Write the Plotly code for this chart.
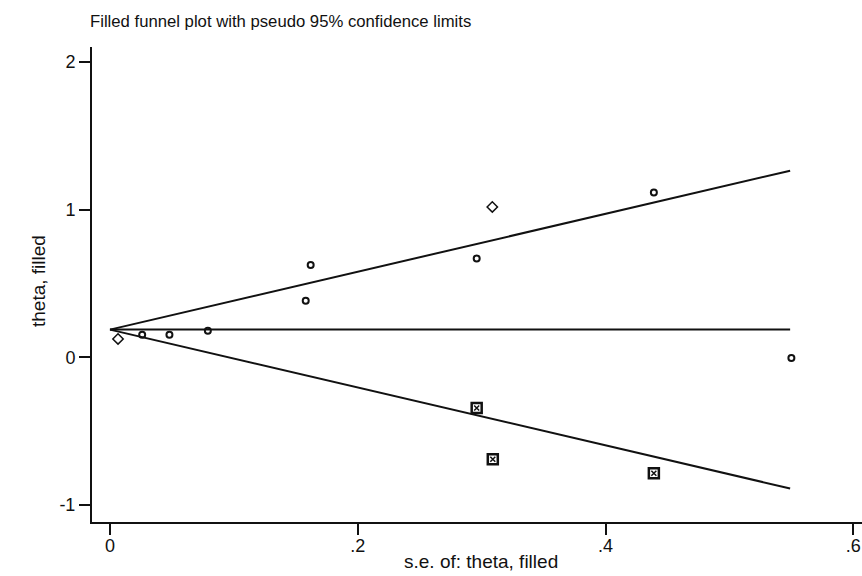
import plotly.graph_objects as go

# Observed studies (hollow circles)
obs_se = [0.026, 0.048, 0.079, 0.158, 0.162, 0.296, 0.439, 0.550]
obs_theta = [0.154, 0.154, 0.181, 0.384, 0.625, 0.670, 1.116, -0.005]

# Studies drawn as diamonds
dia_se = [0.0065, 0.3086]
dia_theta = [0.125, 1.019]

# Filled (imputed) studies
fill_se = [0.296, 0.309, 0.439]
fill_theta = [-0.343, -0.690, -0.785]

# Pooled estimate and funnel extent
pooled_theta = 0.188
se_max = 0.549
funnel_se = [0.0, se_max]

x_tickvals = [0, 0.2, 0.4, 0.6]
x_ticktext = ["0", ".2", ".4", ".6"]
y_tickvals = [-1, 0, 1, 2]
y_ticktext = ["-1", "0", "1", "2"]

ink = "#111111"
fig = go.Figure()

upper = [pooled_theta + 1.96 * s for s in funnel_se]
lower = [pooled_theta - 1.96 * s for s in funnel_se]
for ys in (upper, [pooled_theta, pooled_theta], lower):
    fig.add_trace(go.Scatter(x=funnel_se, y=ys, mode="lines",
                             line=dict(color=ink, width=2), hoverinfo="skip",
                             showlegend=False))

fig.add_trace(go.Scatter(x=obs_se, y=obs_theta, mode="markers",
                         marker=dict(symbol="circle-open", size=6, color=ink,
                                     line=dict(width=2, color=ink)),
                         showlegend=False))
fig.add_trace(go.Scatter(x=dia_se, y=dia_theta, mode="markers",
                         marker=dict(symbol="diamond-open", size=8, color=ink,
                                     line=dict(width=1.5, color=ink)),
                         showlegend=False))
fig.add_trace(go.Scatter(x=fill_se, y=fill_theta, mode="markers",
                         marker=dict(symbol="square-open", size=10, color=ink,
                                     line=dict(width=2.5, color=ink)),
                         showlegend=False))
fig.add_trace(go.Scatter(x=fill_se, y=fill_theta, mode="markers",
                         marker=dict(symbol="x-thin-open", size=5, color=ink,
                                     line=dict(width=1.5, color=ink)),
                         showlegend=False))

font_family = "Liberation Sans, Arial, sans-serif"
fig.update_layout(
    width=862, height=576,
    margin=dict(l=92, r=0, t=47, b=54),
    paper_bgcolor="white", plot_bgcolor="white",
    font=dict(family=font_family, color=ink, size=17),
    title=dict(text="Filled funnel plot with pseudo 95% confidence limits",
               x=90 / 862, xanchor="left", y=1 - 21 / 576, yanchor="middle",
               font=dict(size=16.7, color=ink)),
    xaxis=dict(range=[-0.0145, 0.607], tickvals=x_tickvals, ticktext=x_ticktext,
               showgrid=False, zeroline=False, showline=True, linecolor=ink,
               linewidth=2, ticks="outside", ticklen=11, tickwidth=1.5,
               tickcolor=ink, tickfont=dict(size=18), ticklabelstandoff=-5),
    yaxis=dict(range=[-1.115, 2.102], tickvals=y_tickvals, ticktext=y_ticktext,
               showgrid=False, zeroline=False, showline=True, linecolor=ink,
               linewidth=2, ticks="outside", ticklen=11, tickwidth=1.5,
               tickcolor=ink, tickfont=dict(size=18)),
    annotations=[
        dict(text="s.e. of: theta, filled", xref="paper", yref="paper",
             x=(481 - 92) / 770, y=(522 - 561) / 475, xanchor="center",
             yanchor="middle", showarrow=False, font=dict(size=19, color=ink)),
        dict(text="theta, filled", xref="paper", yref="paper",
             x=(38 - 92) / 770, y=(522 - 281) / 475, xanchor="center",
             yanchor="middle", textangle=-90, showarrow=False,
             font=dict(size=19, color=ink)),
    ],
)

fig.write_html("out.html", config={"displayModeBar": False},
               post_script="document.body.style.margin='0';"
                           "document.body.style.overflow='hidden';")
